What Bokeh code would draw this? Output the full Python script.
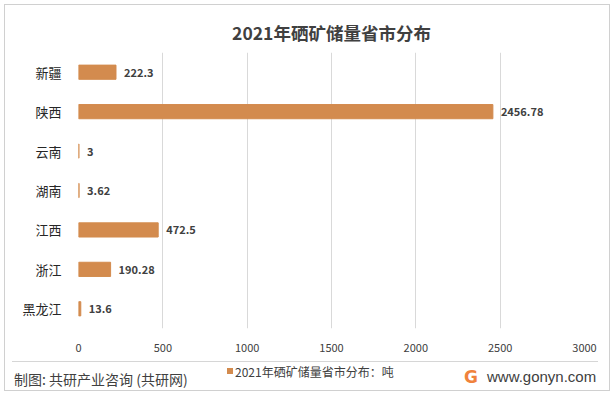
from bokeh.plotting import figure
from bokeh.layouts import column
from bokeh.models import FactorRange, Range1d, FixedTicker, ColumnDataSource, Div
from bokeh.core.properties import value
from bokeh.embed import file_html
from bokeh.resources import INLINE

provinces = ["新疆", "陕西", "云南", "湖南", "江西", "浙江", "黑龙江"]
reserves = [222.3, 2456.78, 3, 3.62, 472.5, 190.28, 13.6]
x_ticks = [0, 500, 1000, 1500, 2000, 2500, 3000]
title_text = "2021年硒矿储量省市分布"
series_name = "2021年硒矿储量省市分布：吨"
source_text = "制图: 共研产业咨询 (共研网)"
site_text = "www.gonyn.com"

FONT = "Noto Sans CJK SC"
BAR = "#D38B4E"
W = 604

src = ColumnDataSource(dict(
    prov=provinces,
    val=reserves,
    lab=[f"{v:g}" for v in reserves],
))

# ---------------- main chart ----------------
p = figure(width=W, height=353, output_backend="svg", toolbar_location=None,
           y_range=FactorRange(factors=provinces[::-1], range_padding=0),
           x_range=Range1d(0, 3000),
           min_border_left=73, min_border_right=25, min_border_top=47,
           min_border_bottom=30)
p.outline_line_color = None
p.border_fill_color = "white"

p.title.text = title_text
p.title.align = "center"
p.title.text_font = FONT
p.title.text_font_size = "17.5px"
p.title.text_font_style = "bold"
p.title.text_color = "#404040"
p.title.standoff = 16

r = p.hbar(y="prov", right="val", left=0, height=0.36, source=src,
           fill_color=BAR, line_color=BAR, line_width=1, legend_label=series_name)
p.legend.visible = False
p.text(x="val", y="prov", text="lab", source=src, x_offset=8,
       text_baseline="middle", text_align="left",
       text_font=value(FONT), text_font_size="11px", text_font_style="bold",
       text_color="#404040")

p.xaxis.ticker = FixedTicker(ticks=x_ticks)
p.xaxis.axis_line_color = None
p.xaxis.major_tick_line_color = None
p.xaxis.minor_tick_line_color = None
p.xaxis.major_label_standoff = 9
p.xaxis.major_label_text_font = FONT
p.xaxis.major_label_text_font_size = "11px"
p.xaxis.major_label_text_color = "#404040"

p.yaxis.axis_line_color = None
p.yaxis.major_tick_line_color = None
p.yaxis.minor_tick_line_color = None
p.yaxis.major_label_standoff = 11
p.yaxis.major_label_text_font = FONT
p.yaxis.major_label_text_font_size = "13px"
p.yaxis.major_label_text_color = "#262626"

p.xgrid.grid_line_color = "#d9d9d9"
p.ygrid.grid_line_color = None

# ---------------- footer (HTML) ----------------
footer_html = f"""
<div style="position:relative;width:{W}px;height:32px;font-family:'{FONT}';color:#404040;">
  <div style="position:absolute;left:7px;top:3px;width:586px;height:0px;border-top:1px solid #d6d6d6;"></div>
  <div style="position:absolute;left:9px;top:12px;font-size:14px;line-height:18px;white-space:nowrap;">{source_text}</div>
  <div style="position:absolute;left:222px;top:10px;width:6px;height:6px;background:{BAR};"></div>
  <div style="position:absolute;left:230px;top:6px;font-size:12px;line-height:16px;white-space:nowrap;">{series_name}</div>
  <div style="position:absolute;left:459px;top:9px;font-family:'DejaVu Sans';font-weight:bold;font-size:17px;line-height:20px;color:#F0823C;">G</div>
  <div style="position:absolute;left:482px;top:10px;font-family:'Liberation Sans';font-size:15px;line-height:18px;white-space:nowrap;">{site_text}</div>
</div>
"""
footer = Div(text=footer_html, width=W, height=32, margin=0)

layout = column(p, footer, spacing=0,
                styles={"border": "1px solid #d0d0d0", "margin": "4px"})

open("out.html", "w").write(file_html(layout, INLINE))
